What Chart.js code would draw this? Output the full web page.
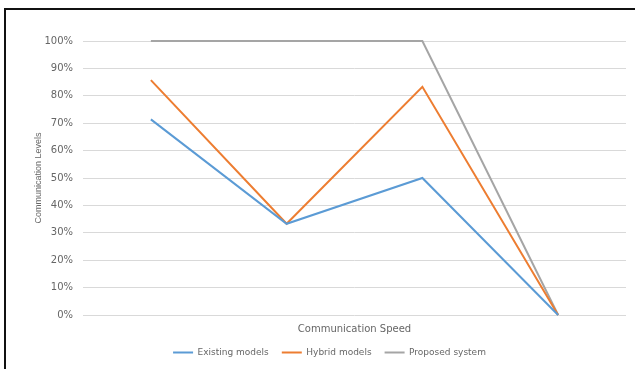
<!DOCTYPE html>
<html>
<head>
<meta charset="utf-8">
<script src="https://cdn.jsdelivr.net/npm/chart.js@4/dist/chart.umd.min.js"></script>
<style>
  html, body { margin: 0; padding: 0; background: #fff; }
  #wrap { position: relative; width: 635px; height: 369px; }
</style>
</head>
<body>
<div id="wrap"><canvas id="c" width="635" height="369"></canvas></div>
<script>
const categories = ['1', '2', '3', '4'];
const existingModels = [71.4, 33.3, 50, 0];
const hybridModels = [85.7, 33.3, 83.3, 0];
const proposedSystem = [100, 100, 100, 0];
const yTicks = [0, 10, 20, 30, 40, 50, 60, 70, 80, 90, 100];

const textColor = '#666666';
const wideFont = '"DejaVu Sans", Verdana, sans-serif';
const narrowFont = '"Liberation Sans", Arial, sans-serif';

// Frame along the top and left edges of the figure
const framePlugin = {
  id: 'frame',
  beforeDraw(chart) {
    const ctx = chart.ctx;
    ctx.save();
    ctx.fillStyle = '#fff';
    ctx.fillRect(0, 0, chart.width, chart.height);
    ctx.strokeStyle = '#111';
    ctx.lineWidth = 2;
    ctx.beginPath();
    ctx.moveTo(5, chart.height);
    ctx.lineTo(5, 9);
    ctx.lineTo(chart.width, 9);
    ctx.stroke();
    ctx.restore();
  }
};

const mk = (label, data, color) => ({
  label, data,
  borderColor: color,
  backgroundColor: color,
  borderWidth: 2,
  pointRadius: 0,
  pointHoverRadius: 0,
  tension: 0,
  fill: false,
  clip: 4
});

new Chart(document.getElementById('c'), {
  type: 'line',
  data: {
    labels: categories,
    datasets: [
      mk('Existing models', existingModels, '#5B9BD5'),
      mk('Hybrid models', hybridModels, '#ED7D31'),
      mk('Proposed system', proposedSystem, '#A5A5A5')
    ]
  },
  plugins: [framePlugin],
  options: {
    responsive: false,
    animation: false,
    layout: { padding: { left: 33, right: 9, top: 41, bottom: 2 } },
    plugins: {
      legend: {
        position: 'bottom',
        labels: {
          usePointStyle: true,
          pointStyle: 'line',
          pointStyleWidth: 20,
          boxHeight: 6,
          padding: 13,
          color: textColor,
          font: { family: wideFont, size: 9 }
        }
      },
      tooltip: { enabled: false }
    },
    scales: {
      x: {
        offset: true,
        grid: { display: false, drawTicks: false },
        border: { display: false },
        ticks: { display: false },
        title: {
          display: true,
          text: 'Communication Speed',
          color: textColor,
          font: { family: wideFont, size: 10 },
          padding: { top: 9, bottom: 0 }
        },
        afterFit(s) { s.height = 20; }
      },
      y: {
        min: 0,
        max: 100,
        afterBuildTicks(s) { s.ticks = yTicks.map(v => ({ value: v })); },
        grid: { color: '#D9D9D9', lineWidth: 1, drawTicks: false },
        border: { display: false },
        ticks: {
          padding: 10,
          color: textColor,
          font: { family: wideFont, size: 10 },
          callback: v => v + '%'
        },
        title: {
          display: true,
          text: 'Communication Levels',
          color: textColor,
          font: { family: narrowFont, size: 9 },
          padding: { top: 0, bottom: 0 }
        },
        afterFit(s) { s.width = 50; }
      }
    }
  }
});
</script>
</body>
</html>
